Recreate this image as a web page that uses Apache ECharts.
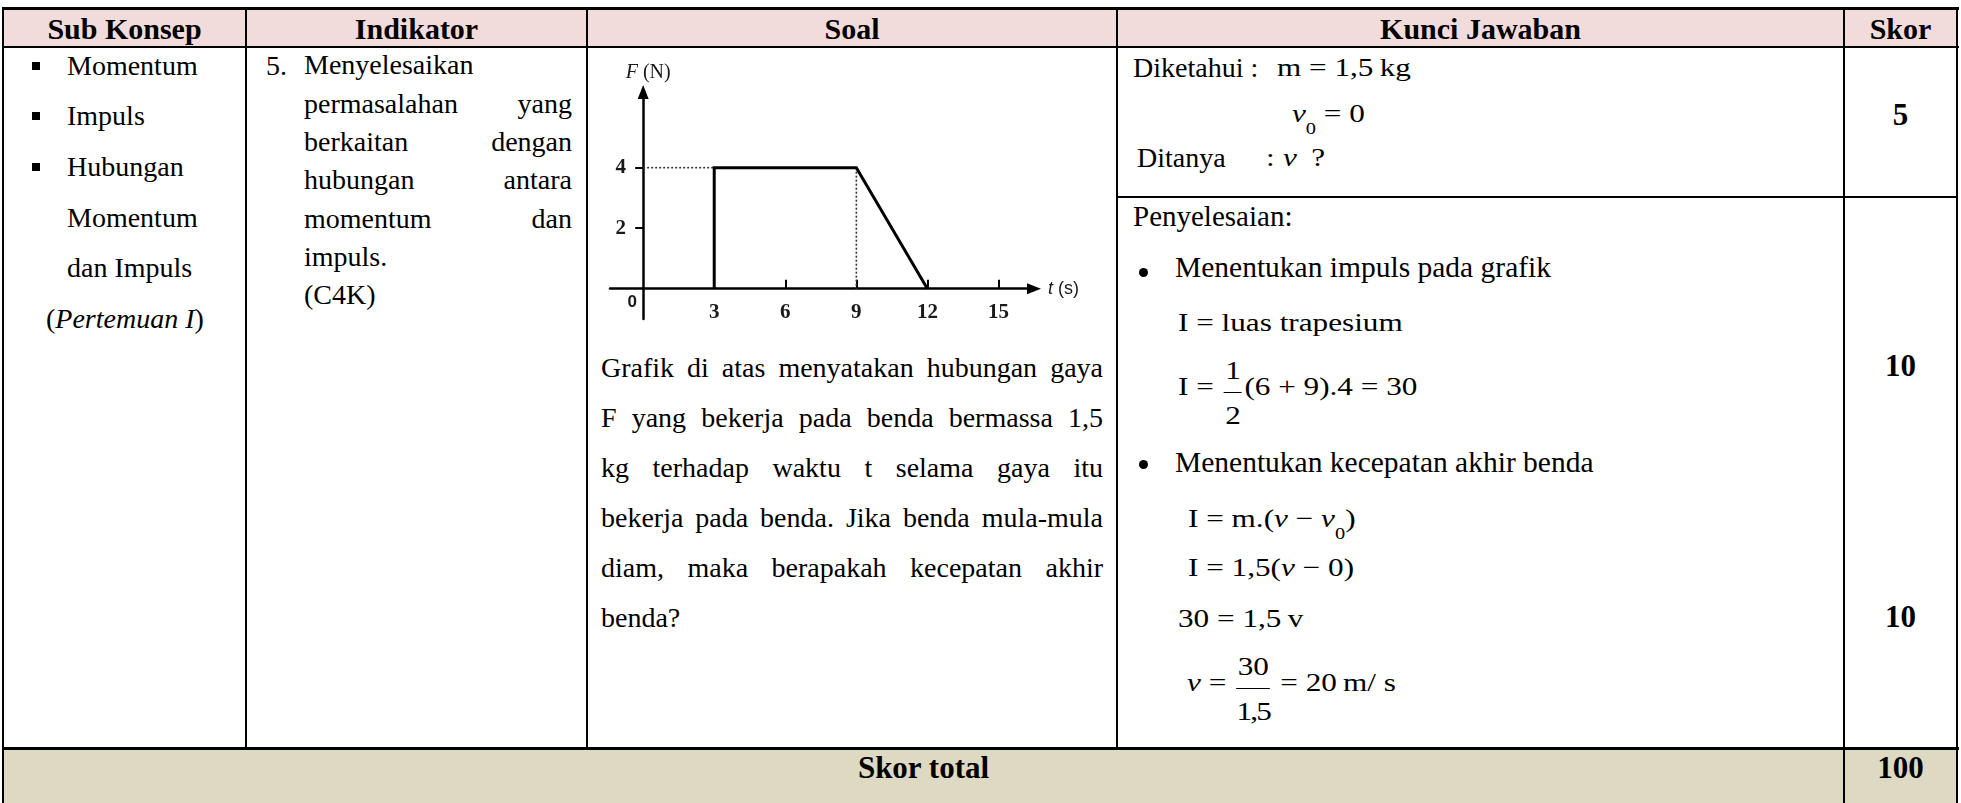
<!DOCTYPE html>
<html>
<head>
<meta charset="utf-8">
<title>Kisi-kisi soal impuls</title>
<script src="https://cdn.jsdelivr.net/npm/echarts@6.0.0/dist/echarts.min.js"></script>
<style>
  html, body { margin: 0; padding: 0; background: #fff; }
  body { width: 1961px; height: 803px; overflow: hidden; position: relative;
         font-family: 'Liberation Serif', 'Times New Roman', serif; color: #000; }
  .bg, .ln, .t, .eq, .sq, .dot, .blk { position: absolute; }
  .ln { background: #000; }
  .t { white-space: nowrap; line-height: 1; font-size: 28px; }
  .hd { font-weight: bold; font-size: 30px; text-align: center; top: 14px; }
  .sk { font-weight: bold; font-size: 31px; text-align: center; }
  .blk { font-size: 28px; }
  .blk div { text-align: justify; text-align-last: justify; }
  .blk div.l { text-align-last: left; }
  .sq { width: 8px; height: 8px; background: #000; left: 32px; }
  .dot { width: 9px; height: 9px; border-radius: 50%; background: #000; left: 1139px; }
  .eq { white-space: nowrap; font-size: 26px; line-height: 26px;
        transform: scaleX(1.2); transform-origin: 0 0; }
  .sb { font-size: 17px; position: relative; top: 12px; }
  .fr { display: inline-flex; flex-direction: column; align-items: center;
        position: relative; top: -16px; margin: 0 2px; }
  .fr .n { padding: 0 1px 8px; border-bottom: 1.4px solid #000; line-height: 26px; }
  .fr .d { padding-top: 10px; line-height: 26px; }
  #graph { position: absolute; left: 590px; top: 50px; width: 525px; height: 290px; }
</style>
</head>
<body>

<!-- backgrounds -->
<div class="bg" style="left:4px;top:10px;width:1952px;height:36px;background:#f2dcdb"></div>
<div class="bg" style="left:4px;top:750px;width:1954px;height:53px;background:#ddd9c3"></div>

<!-- grid lines -->
<div class="ln" style="left:2px;top:7px;width:1957px;height:3px"></div>
<div class="ln" style="left:2px;top:46px;width:1957px;height:2px"></div>
<div class="ln" style="left:1117px;top:196px;width:841px;height:2px"></div>
<div class="ln" style="left:2px;top:747px;width:1957px;height:3px"></div>
<div class="ln" style="left:2px;top:7px;width:2px;height:796px"></div>
<div class="ln" style="left:245px;top:7px;width:2px;height:742px"></div>
<div class="ln" style="left:586px;top:7px;width:2px;height:742px"></div>
<div class="ln" style="left:1116px;top:7px;width:2px;height:742px"></div>
<div class="ln" style="left:1843px;top:7px;width:2px;height:796px"></div>
<div class="ln" style="left:1956px;top:7px;width:2px;height:796px"></div>

<!-- header -->
<div class="t hd" style="left:4px;width:241px">Sub Konsep</div>
<div class="t hd" style="left:247px;width:339px">Indikator</div>
<div class="t hd" style="left:588px;width:528px">Soal</div>
<div class="t hd" style="left:1118px;width:725px">Kunci Jawaban</div>
<div class="t hd" style="left:1845px;width:111px">Skor</div>

<!-- sub konsep -->
<div class="sq" style="top:62px"></div>
<div class="sq" style="top:112px"></div>
<div class="sq" style="top:163px"></div>
<div class="t" style="left:67px;top:51.5px">Momentum</div>
<div class="t" style="left:67px;top:101.5px">Impuls</div>
<div class="t" style="left:67px;top:152.5px">Hubungan</div>
<div class="t" style="left:67px;top:203.5px">Momentum</div>
<div class="t" style="left:67px;top:253.5px">dan Impuls</div>
<div class="t" style="left:46px;top:304.5px">(<i>Pertemuan I</i>)</div>

<!-- indikator -->
<div class="t" style="left:266px;top:51.5px">5.</div>
<div class="blk" style="left:304px;top:46.4px;width:268px;line-height:38.3px">
  <div class="l">Menyelesaikan</div>
  <div>permasalahan yang</div>
  <div>berkaitan dengan</div>
  <div>hubungan antara</div>
  <div>momentum dan</div>
  <div class="l">impuls.</div>
  <div class="l">(C4K)</div>
</div>

<!-- soal -->
<div id="graph"></div>
<div class="blk" style="left:601px;top:342.5px;width:502px;line-height:50px">
  <div>Grafik di atas menyatakan hubungan gaya</div>
  <div>F yang bekerja pada benda bermassa 1,5</div>
  <div>kg terhadap waktu t selama gaya itu</div>
  <div>bekerja pada benda. Jika benda mula-mula</div>
  <div>diam, maka berapakah kecepatan akhir</div>
  <div class="l">benda?</div>
</div>

<!-- kunci jawaban -->
<div class="t" style="left:1133px;top:53.5px">Diketahui :</div>
<div class="eq" style="left:1277px;top:55.2px">m = 1,5&thinsp;kg</div>
<div class="eq" style="left:1292px;top:101.2px"><i>v</i><span class="sb">0</span> = 0</div>
<div class="t" style="left:1137px;top:143.5px">Ditanya</div>
<div class="eq" style="left:1266px;top:145.2px">:<i style="margin-left:7px">v</i><span style="margin-left:12px">?</span></div>

<div class="t" style="left:1133px;top:201.7px;font-size:29px">Penyelesaian:</div>
<div class="dot" style="top:268px"></div>
<div class="t" style="left:1175px;top:253.3px;font-size:29.5px">Menentukan impuls pada grafik</div>
<div class="eq" style="left:1178px;top:310px">I = luas trapesium</div>
<div class="eq" style="left:1178px;top:374px">I = <span class="fr"><span class="n">1</span><span class="d">2</span></span>(6 + 9).4 = 30</div>

<div class="dot" style="top:460px"></div>
<div class="t" style="left:1175px;top:448.3px;font-size:29.5px">Menentukan kecepatan akhir benda</div>
<div class="eq" style="left:1188px;top:506px">I = m.(<i>v</i> − <i>v</i><span class="sb">0</span>)</div>
<div class="eq" style="left:1188px;top:555px">I = 1,5(<i>v</i> − 0)</div>
<div class="eq" style="left:1178px;top:606px">30 = 1,5&thinsp;v</div>
<div class="eq" style="left:1187px;top:670px"><i>v</i> = <span class="fr"><span class="n">30</span><span class="d" style="letter-spacing:-1.5px">1,5</span></span> = 20&thinsp;m/ s</div>

<!-- skor -->
<div class="t sk" style="left:1845px;width:111px;top:99px">5</div>
<div class="t sk" style="left:1845px;width:111px;top:350px">10</div>
<div class="t sk" style="left:1845px;width:111px;top:601px">10</div>
<div class="t sk" style="left:4px;width:1839px;top:752px">Skor total</div>
<div class="t sk" style="left:1845px;width:111px;top:752px">100</div>

<script>
// grafik F terhadap t
const tValues = [3, 3, 9, 12]
const fValues = [0, 4, 4, 0]
// garis bantu putus-putus
const levelT = [0, 3]
const levelF = [4, 4]
const dropT = [9, 9]
const dropF = [4, 0]
// label sumbu
const xTickValues = [3, 6, 9, 12, 15]
const yTickValues = [2, 4]
const originLabelAt = -0.45 // posisi "0" di bawah titik asal

const zip = (xs, ys) => xs.map((x, i) => [x, ys[i]])

const axisStroke = { color: '#000', width: 2.5 }
const numFont = {
  fontFamily: 'Liberation Serif',
  fontWeight: 'bold',
  fontSize: 21,
  color: '#1a1a1a'
}

// label sumbu di v6 menempel ke tepi grid, bukan ke garis sumbu onZero,
// jadi margin dibuat negatif supaya label kembali dekat sumbu
const chart = echarts.init(document.getElementById('graph'))
chart.setOption({
  animation: false,
  grid: { left: 20, top: 42, width: 424, height: 227, containLabel: false, outerBoundsMode: 'none' },
  xAxis: {
    type: 'value',
    min: -1.4,
    max: 16.5,
    name: '{i|t} (s)',
    nameLocation: 'end',
    nameGap: 14,
    nameTextStyle: {
      fontFamily: 'Liberation Sans',
      fontSize: 18,
      color: '#1a1a1a',
      rich: { i: { fontStyle: 'italic', fontFamily: 'Liberation Sans', fontSize: 18 } }
    },
    axisLine: {
      onZero: true,
      symbol: ['none', 'triangle'],
      symbolSize: [11, 14],
      lineStyle: axisStroke
    },
    axisTick: {
      inside: true,
      length: 9,
      customValues: xTickValues,
      lineStyle: { color: '#000', width: 2 }
    },
    axisLabel: Object.assign({ customValues: xTickValues, margin: -17 }, numFont),
    splitLine: { show: false }
  },
  yAxis: {
    type: 'value',
    min: -1,
    max: 6.5,
    name: '{i|F} (N)',
    nameLocation: 'end',
    nameGap: 9,
    nameTextStyle: {
      fontFamily: 'Liberation Serif',
      fontSize: 20,
      color: '#1a1a1a',
      padding: [0, 0, 0, 10],
      rich: { i: { fontStyle: 'italic', fontFamily: 'Liberation Serif', fontSize: 20 } }
    },
    axisLine: {
      onZero: true,
      symbol: ['none', 'triangle'],
      symbolSize: [11, 14],
      lineStyle: axisStroke
    },
    axisTick: {
      length: 8,
      customValues: yTickValues,
      lineStyle: { color: '#000', width: 2 }
    },
    axisLabel: {
      customValues: [originLabelAt].concat(yTickValues),
      margin: -27,
      formatter: (v) => v < 0 ? '{o|0}' : '{n|' + v + '}',
      rich: {
        o: { fontFamily: 'Liberation Sans', fontWeight: 'bold', fontSize: 17, color: '#1a1a1a' },
        n: Object.assign({ padding: [0, 11, 0, 0] }, numFont)
      }
    },
    splitLine: { show: false }
  },
  series: [
    {
      type: 'line',
      data: zip(levelT, levelF),
      symbol: 'none',
      lineStyle: { color: '#333', width: 1.6, type: [2, 2] },
      z: 2
    },
    {
      type: 'line',
      data: zip(dropT, dropF),
      symbol: 'none',
      lineStyle: { color: '#333', width: 1.6, type: [2, 2] },
      z: 2
    },
    {
      type: 'line',
      data: zip(tValues, fValues),
      symbol: 'none',
      lineStyle: { color: '#000', width: 3, join: 'miter' },
      z: 3
    }
  ]
})
</script>
</body>
</html>
